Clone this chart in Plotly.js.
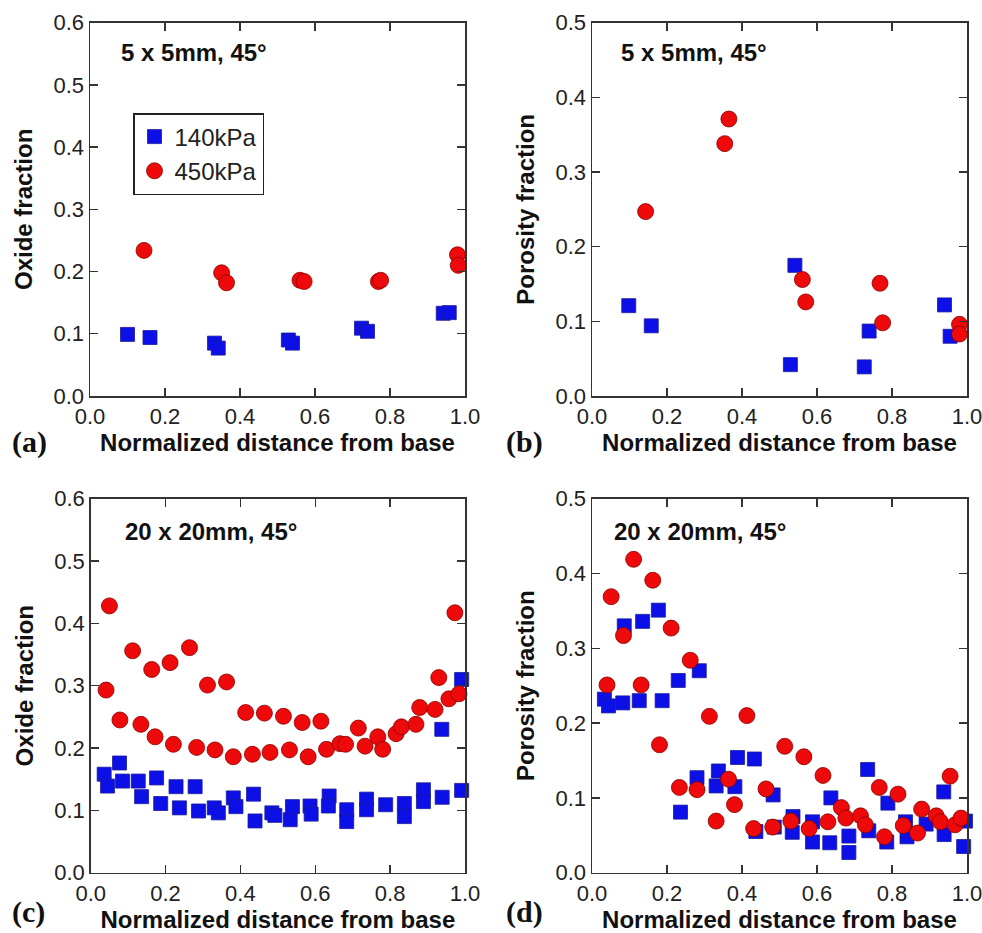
<!DOCTYPE html>
<html>
<head>
<meta charset="utf-8">
<script src="https://cdn.plot.ly/plotly-3.0.1.min.js"></script>
<style>
html,body{margin:0;padding:0;background:#fff;}
#chart{width:982px;height:933px;}
</style>
</head>
<body>
<div id="chart"></div>
<script>
// ---- Data ----
// Panel (a): 5 x 5mm, oxide fraction
var a140x = [0.100,0.160,0.332,0.342,0.529,0.540,0.724,0.740,0.942,0.958];
var a140y = [0.099,0.094,0.085,0.077,0.090,0.085,0.109,0.104,0.133,0.134];
var a450x = [0.144,0.351,0.364,0.560,0.571,0.769,0.775,0.980,0.982];
var a450y = [0.234,0.198,0.182,0.186,0.184,0.184,0.186,0.227,0.210];

// Panel (b): 5 x 5mm, porosity fraction
var b140x = [0.098,0.158,0.529,0.541,0.726,0.739,0.940,0.955];
var b140y = [0.121,0.094,0.042,0.175,0.039,0.087,0.122,0.080];
var b450x = [0.143,0.354,0.365,0.561,0.570,0.768,0.775,0.980,0.980];
var b450y = [0.247,0.338,0.371,0.156,0.126,0.151,0.098,0.096,0.083];

// Panel (c): 20 x 20mm, oxide fraction
var c140x = [0.036,0.045,0.077,0.085,0.127,0.136,0.176,0.187,0.228,0.237,0.279,0.288,0.330,0.341,0.381,0.388,0.435,0.439,0.484,0.492,0.533,0.539,0.586,0.589,0.637,0.635,0.684,0.684,0.737,0.737,0.788,0.838,0.838,0.889,0.889,0.938,0.939,0.991,0.991];
var c140y = [0.158,0.139,0.176,0.147,0.147,0.122,0.152,0.111,0.138,0.104,0.138,0.099,0.104,0.096,0.120,0.106,0.126,0.083,0.096,0.092,0.085,0.106,0.107,0.094,0.123,0.107,0.101,0.082,0.118,0.101,0.109,0.111,0.090,0.133,0.114,0.230,0.121,0.310,0.132];
var c450x = [0.041,0.050,0.078,0.112,0.134,0.163,0.172,0.212,0.221,0.264,0.283,0.312,0.332,0.363,0.381,0.414,0.432,0.464,0.479,0.515,0.531,0.565,0.581,0.615,0.630,0.666,0.681,0.715,0.733,0.767,0.780,0.816,0.830,0.869,0.879,0.920,0.930,0.957,0.973,0.984];
var c450y = [0.293,0.428,0.245,0.356,0.238,0.326,0.218,0.337,0.206,0.361,0.201,0.301,0.197,0.306,0.186,0.257,0.190,0.256,0.193,0.251,0.197,0.241,0.186,0.243,0.198,0.207,0.206,0.232,0.203,0.218,0.198,0.223,0.234,0.238,0.265,0.262,0.313,0.279,0.417,0.287];

// Panel (d): 20 x 20mm, porosity fraction
var d140x = [0.033,0.044,0.082,0.086,0.126,0.135,0.177,0.187,0.230,0.236,0.280,0.286,0.331,0.337,0.381,0.388,0.433,0.437,0.483,0.486,0.536,0.534,0.588,0.588,0.637,0.634,0.685,0.685,0.735,0.738,0.789,0.786,0.836,0.840,0.891,0.938,0.939,0.996,0.991];
var d140y = [0.232,0.223,0.227,0.330,0.230,0.336,0.351,0.230,0.257,0.081,0.127,0.270,0.116,0.136,0.115,0.154,0.152,0.055,0.104,0.061,0.075,0.054,0.068,0.041,0.100,0.040,0.049,0.027,0.138,0.056,0.093,0.041,0.068,0.048,0.065,0.108,0.051,0.069,0.035];
var d450x = [0.040,0.051,0.084,0.111,0.131,0.162,0.180,0.211,0.233,0.262,0.280,0.313,0.331,0.364,0.380,0.413,0.431,0.464,0.482,0.514,0.530,0.565,0.579,0.616,0.629,0.665,0.677,0.716,0.729,0.766,0.780,0.816,0.830,0.868,0.879,0.918,0.929,0.955,0.968,0.984];
var d450y = [0.251,0.369,0.317,0.419,0.251,0.391,0.171,0.327,0.114,0.284,0.111,0.209,0.069,0.125,0.091,0.210,0.059,0.112,0.061,0.169,0.069,0.155,0.059,0.130,0.068,0.087,0.073,0.076,0.064,0.114,0.048,0.105,0.063,0.053,0.085,0.076,0.068,0.129,0.064,0.073];

var seriesNames = ['140kPa','450kPa'];
var panelTags = ['(a)','(b)','(c)','(d)'];
var panelTitles = ['5 x 5mm, 45\u00b0','5 x 5mm, 45\u00b0','20 x 20mm, 45\u00b0','20 x 20mm, 45\u00b0'];
var yTitles = ['Oxide fraction','Porosity fraction','Oxide fraction','Porosity fraction'];
var xTitle = 'Normalized distance from base';
var yMax = [0.6,0.5,0.6,0.5];

// ---- Styling ----
var blueMarker = {symbol:'square', size:14, color:'#0c10e6', line:{color:'#1a1a9a', width:0.8}};
var redMarker  = {symbol:'circle', size:16, color:'#ee0a0a', line:{color:'#8a0000', width:0.8}};

var sets = [
  [a140x,a140y,a450x,a450y],
  [b140x,b140y,b450x,b450y],
  [c140x,c140y,c450x,c450y],
  [d140x,d140y,d450x,d450y]
];
var axSuffix = ['','2','3','4'];
var traces = [];
sets.forEach(function(s,i){
  traces.push({x:s[0], y:s[1], type:'scatter', mode:'markers', name:seriesNames[0],
    marker:blueMarker, xaxis:'x'+axSuffix[i], yaxis:'y'+axSuffix[i], showlegend:i===0, cliponaxis:false});
  traces.push({x:s[2], y:s[3], type:'scatter', mode:'markers', name:seriesNames[1],
    marker:redMarker, xaxis:'x'+axSuffix[i], yaxis:'y'+axSuffix[i], showlegend:i===0, cliponaxis:false});
});

var W=982, H=933;
var xDom = [[90/W,465/W],[592/W,967/W],[90.7/W,465/W],[592/W,967/W]];
var yDom = [[1-396/H,1-22.7/H],[1-396/H,1-22.7/H],[1-872.7/H,1-498.7/H],[1-872.7/H,1-498.7/H]];
var titleX = [0.078, 0.072, 0.085, 0.052];
var titleY = [0.92, 0.92, 0.912, 0.912];

var FONT = 'Liberation Sans, Arial, sans-serif';
var tickFont = {family:FONT, size:22, color:'#222'};
var titleFont = {family:FONT, size:24, color:'#111', weight:'bold'};

var layout = {
  width:W, height:H,
  margin:{l:0,r:0,t:0,b:0},
  paper_bgcolor:'#fff', plot_bgcolor:'#fff',
  showlegend:true,
  legend:{x:133/W, y:1-113/H, xanchor:'left', yanchor:'top',
    bordercolor:'#222', borderwidth:1.5, bgcolor:'#fff',
    font:{family:FONT, size:24, color:'#222'},
    tracegroupgap:0, itemsizing:'trace'},
  annotations:[]
};

for (var i=0;i<4;i++){
  var xa = 'xaxis'+axSuffix[i], ya='yaxis'+axSuffix[i];
  layout[xa] = {domain:xDom[i], range:[0,1], anchor:'y'+axSuffix[i],
    tickvals:[0,0.2,0.4,0.6,0.8,1.0], tickformat:'.1f', ticklabeloverflow:'allow',
    ticks:'inside', ticklen:8, tickwidth:1.3, tickcolor:'#333',
    showline:true, linecolor:'#333', linewidth:1.5, mirror:'ticks',
    showgrid:false, zeroline:false, tickfont:tickFont,
    title:{text:xTitle, font:titleFont, standoff:0}};
  var yv=[]; for (var k=0;k<=Math.round(yMax[i]*10);k++) yv.push(k/10);
  layout[ya] = {domain:yDom[i], range:[0,yMax[i]], anchor:'x'+axSuffix[i],
    tickvals:yv, tickformat:'.1f', ticklabeloverflow:'allow',
    ticks:'inside', ticklen:8, tickwidth:1.3, tickcolor:'#333',
    showline:true, linecolor:'#333', linewidth:1.5, mirror:'ticks',
    showgrid:false, zeroline:false, tickfont:tickFont,
    title:{text:yTitles[i], font:titleFont, standoff:14}};
  // panel inner title
  layout.annotations.push({xref:'x'+axSuffix[i]+' domain', yref:'y'+axSuffix[i]+' domain',
    x:titleX[i], y:titleY[i], xanchor:'left', yanchor:'middle', showarrow:false,
    text:panelTitles[i], font:{family:FONT, size:24, color:'#111', weight:'bold'}});
  // panel tag
  var tagX = (i%2===0)? 10 : 504;
  var tagY = (i<2)? 442 : 912;
  layout.annotations.push({xref:'paper', yref:'paper', x:tagX/W, y:1-tagY/H,
    xanchor:'left', yanchor:'middle', showarrow:false, text:panelTags[i],
    font:{family:'Liberation Serif, Times New Roman, serif', size:30, color:'#111', weight:'bold'}});
}

Plotly.newPlot('chart', traces, layout, {displayModeBar:false, staticPlot:true});
</script>
</body>
</html>
